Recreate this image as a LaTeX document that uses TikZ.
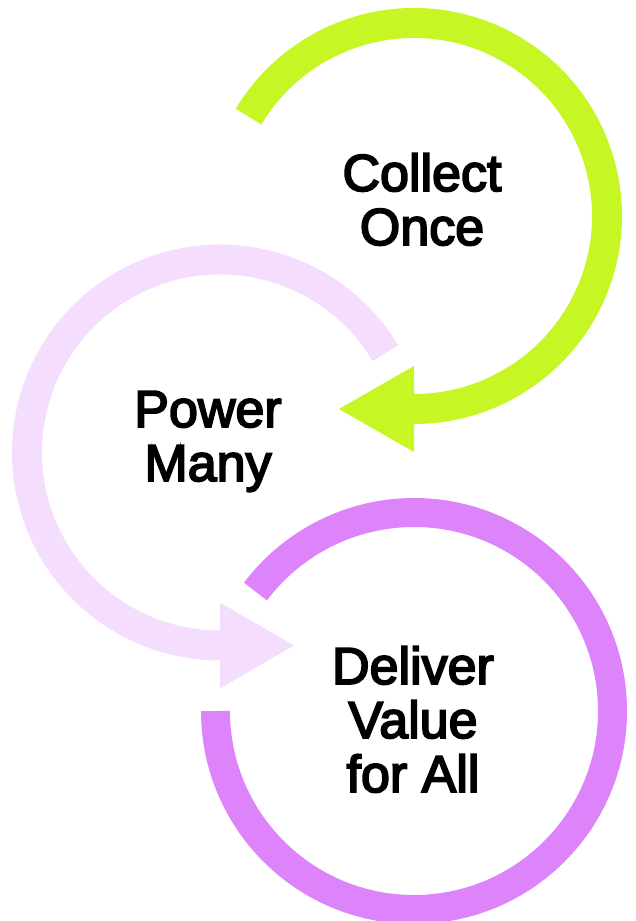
\documentclass[tikz,border=0pt]{standalone}
\usepackage{fontspec}
\usetikzlibrary{calc}
\newfontfamily\labelfont{Liberation Sans}[BoldFont=Liberation Sans, BoldFeatures={FakeBold=3.5}]
\definecolor{limeC}{HTML}{C6F623}
\definecolor{pinkC}{HTML}{F5DEFD}
\definecolor{violetC}{HTML}{DD84FA}
\begin{document}
\begin{tikzpicture}[x=1pt,y=1pt,
  band/.style={line width=30pt, line cap=butt},
  lbl/.style={font=\labelfont\bfseries\fontsize{52}{54}\selectfont, align=center, anchor=base, inner sep=0pt, text=black}]
\useasboundingbox (0,0) rectangle (636,921);
\clip (0,0) rectangle (636,921);
% circle centres
\coordinate (cg) at (414,705);
\coordinate (cp) at (220,468.5);
\coordinate (cv) at (414,210);
% green loop: Collect Once
\draw[band, limeC] ($(cg)+(149:193)$) coordinate (gs) arc[start angle=149, end angle=-90, radius=193] coordinate (ge);
\fill[limeC] (ge) ++(0,43) -- ++(-75,-43) -- ++(75,-43) -- cycle;
% pink loop: Power Many
\draw[band, pinkC] ($(cp)+(31:193)$) coordinate (ps) arc[start angle=31, end angle=270, radius=193] coordinate (pe);
\fill[pinkC] (pe) ++(0,43) -- ++(74,-43) -- ++(-74,-43) -- cycle;
% violet loop: Deliver Value for All
\draw[band, violetC, line width=29pt] ($(cv)+(180:198.5)$) coordinate (vs) arc[start angle=180, end angle=503, radius=198.5] coordinate (ve);
% labels (anchor = baseline of the last line)
\node[lbl] (collect) at (422,676) {Collect\\Once};
\node[lbl] (power) at (208,440) {Power\\Many};
\node[lbl] (deliver) at (413,129) {Deliver\\Value\\for All};
\end{tikzpicture}
\end{document}
